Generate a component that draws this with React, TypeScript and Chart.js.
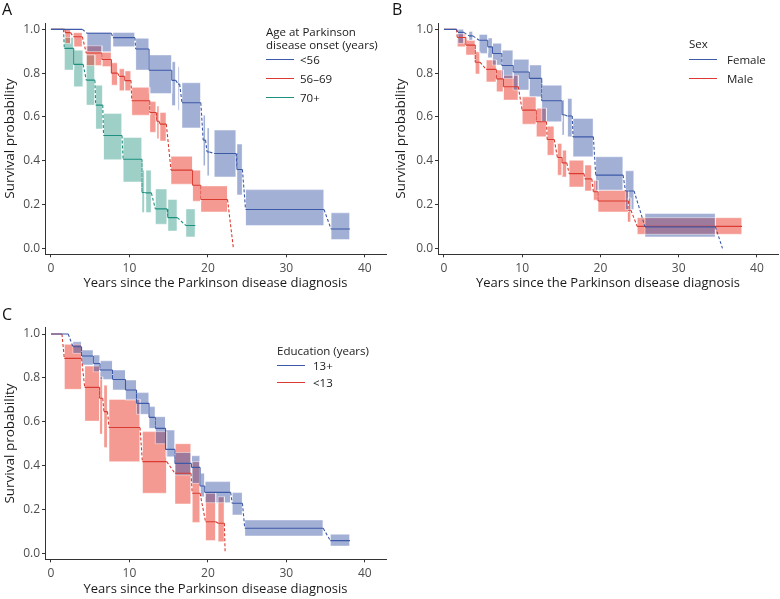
import React, { useEffect, useRef } from "react";
import { Chart, registerables } from "chart.js";

Chart.register(...registerables);
Chart.defaults.font.family = "'Open Sans', sans-serif";

// ---------- axis ticks ----------
const X_TICKS = [0, 10, 20, 30, 40];
const Y_TICKS = [0, 0.2, 0.4, 0.6, 0.8, 1.0];

// ---------- Panel A: age at onset ----------
const aYoungStart = [0, 4.6, 7.9, 10.8, 12.5, 15.4, 16.2, 16.7, 19.4, 19.9, 20.8, 23.7, 24.8, 35.7];
const aYoungEnd = [4.0, 7.7, 10.7, 12.5, 15.4, 15.9, 16.4, 19.1, 19.7, 20.2, 23.6, 24.4, 34.8, 38.1];
const aYoungSurv = [1.0, 0.982, 0.962, 0.91, 0.813, 0.767, 0.75, 0.665, 0.494, 0.44, 0.433, 0.36, 0.177, 0.088];
const aYoungLower = [1.0, 0.898, 0.921, 0.814, 0.707, 0.652, 0.631, 0.55, 0.377, 0.331, 0.326, 0.244, 0.104, 0.04];
const aYoungUpper = [1.0, 0.986, 0.986, 0.959, 0.883, 0.852, 0.829, 0.756, 0.608, 0.55, 0.54, 0.476, 0.268, 0.162];

const aMidStart = [0, 1.8, 2.85, 4.5, 6.5, 7.7, 8.7, 9.4, 10.3, 12.6, 13.5, 13.9, 15.3, 18.05, 19.1, 23.25];
const aMidEnd = [1.8, 2.5, 4.0, 6.5, 7.7, 8.5, 9.4, 10.2, 12.6, 13.4, 13.8, 14.7, 18.05, 19.1, 22.5, 23.25];
const aMidSurv = [1.0, 0.985, 0.966, 0.892, 0.862, 0.8, 0.785, 0.766, 0.674, 0.62, 0.58, 0.567, 0.357, 0.288, 0.223, 0];
const aMidLower = [1.0, 0.936, 0.92, 0.835, 0.83, 0.745, 0.72, 0.72, 0.608, 0.53, 0.5, 0.49, 0.293, 0.215, 0.166, 0];
const aMidUpper = [1.0, 1.0, 0.985, 0.925, 0.895, 0.847, 0.82, 0.81, 0.735, 0.67, 0.65, 0.62, 0.42, 0.357, 0.285, 0];

const aOldStart = [0, 1.7, 2.9, 4.5, 5.7, 6.7, 9.2, 11.6, 12.1, 13.3, 14.9, 17.2];
const aOldEnd = [1.6, 2.9, 4.1, 5.6, 6.6, 9.05, 11.6, 11.95, 12.8, 14.8, 16.1, 18.4];
const aOldSurv = [1.0, 0.913, 0.84, 0.768, 0.654, 0.515, 0.407, 0.255, 0.253, 0.18, 0.14, 0.104];
const aOldLower = [1.0, 0.814, 0.738, 0.654, 0.545, 0.405, 0.303, 0.163, 0.163, 0.11, 0.079, 0.052];
const aOldUpper = [1.0, 0.963, 0.905, 0.883, 0.745, 0.616, 0.506, 0.357, 0.357, 0.271, 0.223, 0.18];

// ---------- Panel B: sex ----------
const bFemStart = [0, 1.8, 3.2, 4.5, 5.6, 6.2, 7.4, 8.85, 10.9, 12.5, 15.1, 15.8, 16.5, 19.4, 23.2, 25.7, 35.6];
const bFemEnd = [1.6, 2.55, 3.7, 5.6, 6.2, 7.4, 8.85, 10.9, 12.5, 15.1, 15.4, 16.4, 19.1, 22.9, 24.3, 34.7, 35.6];
const bFemSurv = [1.0, 0.986, 0.97, 0.95, 0.92, 0.89, 0.835, 0.805, 0.776, 0.674, 0.61, 0.604, 0.509, 0.334, 0.262, 0.098, 0];
const bFemLower = [1.0, 0.936, 0.95, 0.89, 0.87, 0.837, 0.776, 0.723, 0.692, 0.578, 0.517, 0.509, 0.418, 0.265, 0.177, 0.052, 0];
const bFemUpper = [1.0, 1.0, 0.99, 0.977, 0.96, 0.936, 0.905, 0.863, 0.837, 0.745, 0.677, 0.684, 0.593, 0.418, 0.354, 0.159, 0];

const bMaleStart = [0, 1.7, 2.8, 4.0, 5.4, 6.7, 7.6, 10.0, 11.8, 13.2, 14.5, 15.1, 16.0, 18.0, 19.1, 19.7, 23.5, 24.7];
const bMaleEnd = [1.6, 2.8, 4.0, 4.6, 6.7, 7.6, 9.5, 11.8, 13.1, 14.1, 15.1, 15.7, 17.9, 18.9, 19.7, 23.6, 23.9, 38.1];
const bMaleSurv = [1.0, 0.963, 0.928, 0.85, 0.817, 0.774, 0.738, 0.631, 0.578, 0.497, 0.415, 0.39, 0.341, 0.317, 0.258, 0.216, 0.174, 0.1];
const bMaleLower = [1.0, 0.92, 0.883, 0.796, 0.76, 0.715, 0.677, 0.567, 0.509, 0.425, 0.334, 0.326, 0.28, 0.262, 0.22, 0.166, 0.12, 0.064];
const bMaleUpper = [1.0, 0.98, 0.95, 0.898, 0.86, 0.814, 0.79, 0.692, 0.64, 0.558, 0.479, 0.448, 0.402, 0.38, 0.31, 0.265, 0.23, 0.14];

// ---------- Panel C: education ----------
const cHighStart = [0, 2.8, 3.9, 5.4, 6.25, 7.85, 9.5, 10.9, 12.5, 13.3, 14.6, 15.8, 17.9, 19.0, 19.6, 23.1, 24.7, 35.6];
const cHighEnd = [2.2, 3.9, 5.4, 6.25, 7.85, 9.5, 10.9, 12.5, 13.3, 14.6, 15.8, 17.9, 19.0, 19.6, 22.9, 24.4, 34.7, 38.1];
const cHighSurv = [1.0, 0.942, 0.9, 0.866, 0.836, 0.793, 0.745, 0.684, 0.62, 0.57, 0.474, 0.41, 0.392, 0.307, 0.278, 0.228, 0.114, 0.058];
const cHighLower = [1.0, 0.912, 0.859, 0.828, 0.793, 0.745, 0.699, 0.634, 0.57, 0.5, 0.44, 0.357, 0.319, 0.258, 0.231, 0.175, 0.079, 0.033];
const cHighUpper = [1.0, 0.965, 0.927, 0.904, 0.878, 0.836, 0.79, 0.733, 0.669, 0.623, 0.562, 0.46, 0.445, 0.365, 0.327, 0.277, 0.152, 0.087];

const cLowStart = [0, 1.7, 4.3, 6.2, 6.75, 7.4, 11.65, 15.8, 18.0, 19.7, 21.3, 22.2];
const cLowEnd = [1.4, 3.9, 6.2, 6.6, 7.2, 11.35, 14.75, 17.85, 19.0, 21.0, 22.1, 22.2];
const cLowSurv = [1.0, 0.889, 0.757, 0.707, 0.646, 0.574, 0.418, 0.365, 0.274, 0.144, 0.137, 0];
const cLowLower = [1.0, 0.748, 0.603, 0.544, 0.482, 0.418, 0.274, 0.225, 0.141, 0.058, 0.053, 0];
const cLowUpper = [1.0, 0.953, 0.854, 0.805, 0.767, 0.702, 0.555, 0.5, 0.418, 0.274, 0.258, 0];

// ---------- styles ----------
const BLUE = "#3d5aa8";
const BLUE_BAND = "rgba(60,88,168,0.47)";
const RED = "#d93b31";
const RED_BAND = "rgba(236,62,46,0.52)";
const GREEN = "#1f9080";
const GREEN_BAND = "rgba(40,150,130,0.45)";
const RIM = "rgba(255,255,255,0.45)";

type Group = {
  label: string;
  color: string;
  band: string;
  start: number[];
  end: number[];
  surv: number[];
  lower: number[];
  upper: number[];
};

const panelAGroups: Group[] = [
  { label: "<56", color: BLUE, band: BLUE_BAND, start: aYoungStart, end: aYoungEnd, surv: aYoungSurv, lower: aYoungLower, upper: aYoungUpper },
  { label: "56–69", color: RED, band: RED_BAND, start: aMidStart, end: aMidEnd, surv: aMidSurv, lower: aMidLower, upper: aMidUpper },
  { label: "70+", color: GREEN, band: GREEN_BAND, start: aOldStart, end: aOldEnd, surv: aOldSurv, lower: aOldLower, upper: aOldUpper },
];
const panelBGroups: Group[] = [
  { label: "Female", color: BLUE, band: BLUE_BAND, start: bFemStart, end: bFemEnd, surv: bFemSurv, lower: bFemLower, upper: bFemUpper },
  { label: "Male", color: RED, band: RED_BAND, start: bMaleStart, end: bMaleEnd, surv: bMaleSurv, lower: bMaleLower, upper: bMaleUpper },
];
const panelCGroups: Group[] = [
  { label: "13+", color: BLUE, band: BLUE_BAND, start: cHighStart, end: cHighEnd, surv: cHighSurv, lower: cHighLower, upper: cHighUpper },
  { label: "<13", color: RED, band: RED_BAND, start: cLowStart, end: cLowEnd, surv: cLowSurv, lower: cLowLower, upper: cLowUpper },
];

function buildDatasets(g: Group) {
  const up: any[] = [];
  const lo: any[] = [];
  const rim: any[] = [];
  const line: any[] = [];
  g.start.forEach((s, i) => {
    const e = g.end[i];
    up.push({ x: s, y: g.upper[i] }, { x: e, y: g.upper[i] }, { x: e, y: null });
    lo.push({ x: s, y: g.lower[i] }, { x: e, y: g.lower[i] }, { x: e, y: null });
    if (g.upper[i] > g.lower[i]) {
      rim.push(
        { x: s, y: g.lower[i] },
        { x: s, y: g.upper[i] },
        { x: e, y: g.upper[i] },
        { x: e, y: g.lower[i] },
        { x: s, y: g.lower[i] },
        { x: s, y: null }
      );
    }
    line.push({ x: s, y: g.surv[i] }, { x: e, y: g.surv[i] });
  });
  return [
    { data: up, borderWidth: 0, borderColor: "rgba(0,0,0,0)", pointRadius: 0, fill: false, order: 2, spanGaps: false },
    { data: lo, borderWidth: 0, borderColor: "rgba(0,0,0,0)", pointRadius: 0, fill: "-1", backgroundColor: g.band, order: 2, spanGaps: false },
    { data: rim, borderWidth: 1, borderColor: RIM, pointRadius: 0, fill: false, order: 1, spanGaps: false },
    {
      data: line,
      borderColor: g.color,
      borderWidth: 1.1,
      pointRadius: 0,
      fill: false,
      order: 0,
      segment: {
        borderDash: (ctx: any) => (ctx.p0.parsed.y !== ctx.p1.parsed.y ? [3, 2] : undefined),
      },
    },
  ];
}

type PanelProps = {
  groups: Group[];
  left: number;
  top: number;
  width: number;
  height: number;
  yAxisWidth: number;
  xAxisHeight: number;
  padTop: number;
  padRight: number;
  xTitlePad: number;
  yTitlePad: number;
};

function KMPanel(p: PanelProps) {
  const ref = useRef<HTMLCanvasElement>(null);
  useEffect(() => {
    if (!ref.current) return;
    const chart = new Chart(ref.current, {
      type: "line",
      data: { datasets: p.groups.flatMap(buildDatasets) as any },
      options: {
        responsive: false,
        maintainAspectRatio: false,
        animation: false,
        layout: { padding: { top: p.padTop, right: p.padRight, left: 0, bottom: 0 } },
        plugins: { legend: { display: false }, tooltip: { enabled: false } },
        scales: {
          x: {
            type: "linear",
            min: -0.76,
            max: 42.7,
            afterBuildTicks: (s: any) => {
              s.ticks = X_TICKS.map((v) => ({ value: v }));
            },
            afterFit: (s: any) => {
              s.height = p.xAxisHeight;
            },
            ticks: {
              autoSkip: false,
              maxRotation: 0,
              padding: 4,
              color: "#4d4d4d",
              font: { size: 12 },
              callback: (v: any) => String(v),
            },
            grid: { drawOnChartArea: false, drawTicks: true, tickLength: 3, color: "#333" },
            border: { display: true, color: "#333", width: 1 },
            title: {
              display: true,
              text: "Years since the Parkinson disease diagnosis",
              color: "#1a1a1a",
              font: { size: 13 },
              padding: { top: 0, bottom: p.xTitlePad },
            },
          },
          y: {
            type: "linear",
            min: -0.0274,
            max: 1.029,
            afterBuildTicks: (s: any) => {
              s.ticks = Y_TICKS.map((v) => ({ value: v }));
            },
            afterFit: (s: any) => {
              s.width = p.yAxisWidth;
            },
            ticks: {
              padding: 2,
              color: "#4d4d4d",
              font: { size: 12 },
              callback: (v: any) => Number(v).toFixed(1),
            },
            grid: { drawOnChartArea: false, drawTicks: true, tickLength: 3, color: "#333" },
            border: { display: true, color: "#333", width: 1 },
            title: {
              display: true,
              text: "Survival probability",
              color: "#1a1a1a",
              font: { size: 13.5 },
              padding: { top: p.yTitlePad, bottom: 0 },
            },
          },
        },
      },
    });
    return () => chart.destroy();
  }, []);
  return (
    <canvas
      ref={ref}
      width={p.width}
      height={p.height}
      style={{ position: "absolute", left: p.left, top: p.top, width: p.width, height: p.height }}
    />
  );
}

const textStyle: React.CSSProperties = {
  position: "absolute",
  fontFamily: "'Open Sans', sans-serif",
  fontSize: 11.5,
  color: "#1a1a1a",
  whiteSpace: "nowrap",
  lineHeight: "13px",
};

function Legend({ title, groups, left, titleTop, rowCenters, textLeft }: { title: string[]; groups: Group[]; left: number; titleTop: number; rowCenters: number[]; textLeft: number }) {
  return (
    <>
      <div style={{ ...textStyle, left, top: titleTop }}>
        {title.map((t, i) => (
          <div key={i}>{t}</div>
        ))}
      </div>
      {groups.map((g, i) => (
        <React.Fragment key={g.label}>
          <div style={{ position: "absolute", left, top: Math.round(rowCenters[i]) - 1, width: 28, height: 1, background: g.color }} />
          <div style={{ ...textStyle, left: textLeft, top: rowCenters[i] - 7 }}>{g.label}</div>
        </React.Fragment>
      ))}
    </>
  );
}

const letterStyle: React.CSSProperties = {
  position: "absolute",
  fontFamily: "'Open Sans', sans-serif",
  fontSize: 16,
  lineHeight: "16px",
  color: "#111",
};

export default function App() {
  return (
    <div style={{ position: "absolute", left: 0, top: 0, width: 780, height: 599, background: "#fff", overflow: "hidden" }}>
      <KMPanel groups={panelAGroups} left={0} top={0} width={390} height={300} yAxisWidth={45} xAxisHeight={45.7} padTop={23} padRight={4} xTitlePad={8.5} yTitlePad={2} />
      <KMPanel groups={panelBGroups} left={390} top={0} width={390} height={300} yAxisWidth={48} xAxisHeight={45.7} padTop={23} padRight={2} xTitlePad={8.5} yTitlePad={3} />
      <KMPanel groups={panelCGroups} left={0} top={300} width={390} height={299} yAxisWidth={45} xAxisHeight={39.7} padTop={27.7} padRight={4} xTitlePad={2} yTitlePad={2} />

      <div style={{ ...letterStyle, left: 2, top: 1 }}>A</div>
      <div style={{ ...letterStyle, left: 392, top: 1 }}>B</div>
      <div style={{ ...letterStyle, left: 2, top: 306 }}>C</div>

      <Legend title={["Age at Parkinson", "disease onset (years)"]} groups={panelAGroups} left={266} titleTop={25} rowCenters={[60, 79.3, 98.3]} textLeft={300} />
      <Legend title={["Sex"]} groups={panelBGroups} left={689} titleTop={36.5} rowCenters={[60, 79]} textLeft={727} />
      <Legend title={["Education (years)"]} groups={panelCGroups} left={277} titleTop={343.5} rowCenters={[365.7, 383.3]} textLeft={313} />
    </div>
  );
}
